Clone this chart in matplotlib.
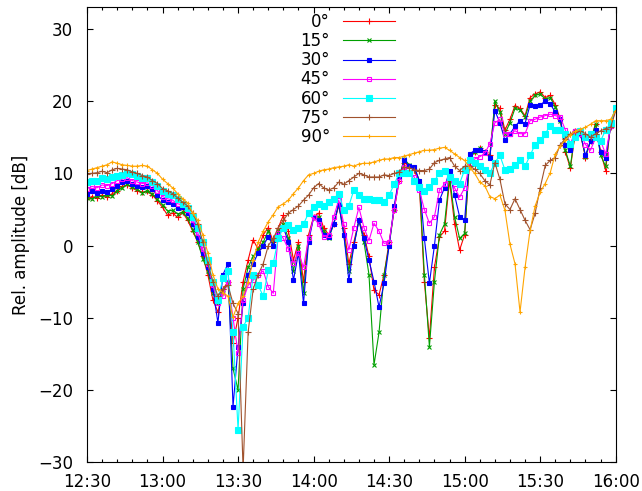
import numpy as np
import matplotlib
matplotlib.use('Agg')
import matplotlib.pyplot as plt
import matplotlib.dates as mdates

# sample times: every 2 minutes from 12:30 to 16:00
start = np.datetime64('2000-01-01T12:30')
minutes = np.arange(0, 211, 2)
times = (start + minutes.astype('timedelta64[m]')).astype('datetime64[ms]').tolist()

deg0 = [6.5, 6.8, 6.6, 7.0, 6.7, 7.2, 7.5, 8.2, 8.4, 8.0, 7.6, 7.4, 7.5, 7.0, 6.2, 5.3, 4.2, 4.5, 3.9, 4.6,
        3.5, 2.0, 0.5, -1.5, -4.0, -7.5, -9.2, -6.0, -5.0, -13.5, -10.0, -5.0, -2.0, 0.8, -0.5, 1.5, 2.5,
        0.5, 2.5, 4.2, 2.0, -2.0, 0.5, -5.0, 1.5, 4.0, 4.5,
        2.5, 1.5, 3.0, 5.5, 2.5, -2.5, 0.5, 3.5, 1.5, -1.5,
        -6.2, -6.8, -4.0, 0.5, 5.0, 9.0, 11.5, 11.0, 10.5, 8.5,
        -5.0, -12.8, -3.0, 1.2, 2.0, 9.0, 3.0, -0.6, 1.5, 12.2,
        13.0, 13.5, 13.0, 12.5, 19.5, 19.0, 16.0, 17.5, 19.4, 19.0,
        18.0, 20.5, 21.0, 21.3, 20.5, 20.8, 19.5, 17.5, 13.0, 10.7,
        15.9, 15.5, 12.2, 14.5, 16.9, 13.0, 10.4, 17.0, 19.0]
deg15 = [6.6, 6.5, 6.9, 6.8, 7.0, 6.9, 7.6, 8.0, 8.5, 8.1, 7.8, 7.3, 7.6, 7.1, 6.4, 5.6, 4.8, 4.9, 4.4, 4.6,
         3.8, 2.2, 0.5, -1.8, -3.5, -6.5, -8.0, -6.5, -5.0, -17.0, -20.0, -6.0, -3.0, -1.5, -0.5, 0.5, 2.0,
         0.0, 2.0, 3.0, 1.0, -3.5, 0.0, -6.5, 1.0, 3.9, 4.0,
         2.0, 1.0, 3.0, 5.8, 1.5, -3.5, 0.0, 3.5, 0.5, -4.0,
         -16.5, -12.0, -4.0, 0.0, 5.0, 9.5, 12.0, 11.2, 10.8, 9.0,
         -4.0, -14.0, -5.0, 1.5, 3.0, 9.5, 4.0, 1.0, 1.7, 12.2,
         13.0, 13.5, 13.0, 12.2, 20.0, 18.5, 15.5, 17.0, 19.0, 18.8,
         17.8, 20.0, 20.8, 21.0, 20.3, 20.5, 19.2, 17.3, 13.2, 11.0,
         15.9, 15.5, 12.3, 14.5, 16.8, 12.5, 11.0, 17.0, 19.2]
deg30 = [7.2, 7.5, 7.3, 7.6, 7.4, 7.8, 8.2, 8.8, 9.0, 8.6, 8.3, 8.1, 8.2, 7.8, 7.0, 6.3, 6.0, 5.8, 5.2, 5.3,
         4.5, 3.0, 1.2, -1.0, -3.0, -6.0, -10.7, -4.0, -2.5, -22.3, -14.0, -8.0, -4.0, -2.5, -1.0, 0.0, 1.2,
         0.0, 1.5, 2.5, 0.5, -4.8, -1.0, -8.0, 0.5, 3.9, 3.5,
         1.5, 1.2, 3.0, 5.8, 1.5, -4.8, 0.0, 3.5, 1.0, -2.0,
         -5.0, -8.5, -5.2, 0.0, 5.5, 9.5, 11.8, 11.0, 10.9, 9.0,
         1.0, -5.2, 0.0, 6.3, 8.0, 10.4, 7.0, 4.0, 3.5, 12.7,
         13.2, 13.2, 13.0, 12.2, 18.7, 17.0, 14.6, 15.5, 16.5, 17.3,
         16.9, 19.5, 19.4, 19.5, 20.0, 19.6, 18.5, 17.5, 14.0, 13.2,
         15.9, 15.5, 12.5, 14.5, 16.0, 13.0, 12.1, 16.5, 19.0]
deg45 = [7.9, 8.2, 8.0, 8.4, 8.3, 8.6, 9.0, 9.2, 9.4, 9.0, 8.8, 8.6, 8.7, 8.3, 7.6, 6.8, 6.5, 6.3, 5.8, 5.6,
         4.9, 3.5, 1.8, -0.5, -2.5, -5.5, -8.0, -7.0, -5.0, -10.0, -14.9, -7.5, -5.5, -4.8, -4.0, -3.5, -5.7,
         -6.6, 1.7, 1.0, -0.5, -2.4, -1.0, -3.0, 1.0, 3.9, 3.0,
         1.2, 1.5, 4.0, 6.3, 3.0, -0.6, 2.5, 5.3, 2.5, 0.7,
         3.1, 2.0, 0.3, 0.5, 5.0, 9.0, 10.9, 10.0, 9.5, 7.7,
         5.0, 3.1, 4.0, 7.7, 8.5, 9.5, 8.0, 6.7, 8.0, 11.4,
         12.0, 12.3, 12.8, 14.1, 17.0, 17.5, 15.5, 15.5, 15.9, 15.5,
         15.5, 17.3, 17.5, 17.8, 18.0, 18.2, 18.0, 17.8, 16.0, 14.1,
         15.9, 15.5, 14.0, 13.2, 15.0, 14.5, 12.7, 16.5, 19.0]
deg60 = [8.8, 9.0, 9.0, 9.3, 9.2, 9.5, 9.6, 9.8, 10.1, 9.9, 9.6, 9.4, 9.3, 8.8, 8.3, 7.6, 7.2, 7.0, 6.5, 5.8,
         5.2, 4.0, 2.5, 0.5, -2.0, -5.0, -7.5, -4.5, -3.5, -12.0, -25.5, -11.2, -10.0, -4.0, -5.5, -7.0, -3.4,
         -2.4, 1.0, 2.5, 2.8, 2.1, 2.5, 3.0, 4.5, 5.3, 5.8,
         5.5, 6.0, 6.5, 7.2, 4.9, 5.5, 7.7, 7.0, 6.5, 6.5,
         6.3, 6.3, 6.0, 7.0, 8.5, 10.0, 10.0, 10.0, 9.0, 8.1,
         7.5, 8.1, 9.0, 10.0, 10.4, 9.5, 9.0, 8.6, 10.5, 11.8,
         11.5, 11.0, 10.5, 10.0, 11.5, 12.5, 10.5, 10.6, 11.2, 11.8,
         11.0, 12.5, 14.0, 14.6, 15.5, 16.6, 16.0, 16.0, 15.5, 14.1,
         15.0, 15.9, 15.0, 15.5, 15.0, 14.5, 16.0, 17.0, 19.1]
deg75 = [9.9, 10.0, 10.1, 10.3, 10.1, 10.5, 10.7, 10.6, 10.5, 10.2, 10.0, 9.7, 9.5, 9.0, 8.6, 7.9, 7.6, 7.2, 6.6, 6.0,
         5.5, 4.5, 3.0, 0.5, -2.5, -5.0, -7.0, -6.0, -5.5, -8.0, -9.4, -31.0, -12.0, -6.0, -4.0, -2.5, 0.0,
         1.0, 2.5, 3.5, 4.5, 5.0, 5.5, 6.3, 7.0, 8.0, 8.6,
         8.0, 7.7, 8.0, 8.8, 8.5, 9.0, 9.5, 10.0, 9.8, 9.5,
         9.5, 9.5, 9.8, 9.7, 10.0, 10.2, 10.9, 10.8, 10.5, 10.4,
         10.4, 10.6, 11.5, 11.8, 12.0, 12.2, 11.0, 10.4, 11.0, 11.0,
         10.6, 10.0, 9.0, 8.4, 11.5, 9.2, 5.8, 5.0, 6.5, 5.0,
         3.5, 2.2, 4.5, 8.0, 11.1, 11.8, 12.2, 14.0, 14.8, 15.5,
         15.7, 15.9, 15.5, 15.0, 15.5, 15.9, 16.2, 16.4, 18.7]
deg90 = [10.4, 10.6, 10.8, 11.0, 11.2, 11.6, 11.4, 11.2, 11.1, 11.0, 11.0, 11.1, 11.0, 10.5, 10.0, 9.2, 8.6, 8.0, 7.2, 6.5,
         5.9, 4.5, 3.5, 1.5, -1.0, -4.0, -6.0, -6.5, -7.0, -9.9, -8.0, -7.0, -5.0, -2.0, 0.5, 2.0, 3.3,
         4.3, 5.4, 5.8, 6.3, 7.2, 8.0, 9.0, 9.8, 10.0, 10.3,
         10.5, 10.6, 10.8, 10.9, 11.0, 11.2, 11.0, 11.3, 11.4, 11.4,
         11.6, 11.8, 12.0, 12.0, 12.2, 12.2, 12.4, 12.6, 12.8, 13.0,
         13.2, 13.2, 13.3, 13.5, 13.6, 13.2, 12.7, 12.2, 11.8, 10.8,
         10.0, 8.8, 8.3, 6.8, 6.5, 7.0, 4.9, 0.2, -2.5, -9.2,
         -3.0, 2.1, 5.5, 7.4, 8.6, 10.1, 12.7, 13.8, 14.6, 15.3,
         15.9, 16.1, 16.4, 16.8, 17.3, 17.3, 17.3, 17.5, 18.7]

labels = ['0°', '15°', '30°', '45°', '60°', '75°', '90°']
series = [deg0, deg15, deg30, deg45, deg60, deg75, deg90]
colors = ['#ff0000', '#00a000', '#0000ff', '#ff00ff', '#00ffff', '#a0522d', '#ffa500']
markers = ['+', 'x', 's', 's', 's', '+', '+']
msizes = [4.5, 3.5, 2.5, 3.5, 4, 4, 3.5]
mfill = ['full', 'full', 'full', 'none', 'full', 'full', 'full']

fig = plt.figure(figsize=(6.42, 4.91), dpi=100)
ax = fig.add_axes([87/642, 1 - 462.3/491, (615.7 - 87)/642, (462.3 - 7.3)/491])

for vals, lab, c, m, ms, fs in zip(series, labels, colors, markers, msizes, mfill):
    ax.plot(times, vals, color=c, lw=0.8, marker=m, ms=ms, mew=0.8, fillstyle=fs, label=lab)

ax.set_xlim(times[0], times[-1])
ax.set_ylim(-30, 33)
ax.set_yticks([-30, -20, -10, 0, 10, 20, 30])
ax.xaxis.set_major_locator(mdates.MinuteLocator(byminute=[0, 30]))
ax.xaxis.set_minor_locator(mdates.MinuteLocator(byminute=range(0, 60, 6)))
ax.xaxis.set_major_formatter(mdates.DateFormatter('%H:%M'))
ax.tick_params(which='both', direction='in', top=True, right=True, labelsize=12)
ax.tick_params(which='major', length=4.5, width=0.8, pad=8)
ax.tick_params(which='minor', length=2.2, width=0.8)
ax.tick_params(axis='y', pad=10)
for sp in ax.spines.values():
    sp.set_linewidth(0.8)
ax.set_ylabel('Rel. amplitude [dB]', fontsize=12, labelpad=6)

ax.legend(loc='upper right', bbox_to_anchor=(395/642, 1 - 13/491), bbox_transform=fig.transFigure,
          frameon=False, markerfirst=False, fontsize=12, handlelength=3.1, handletextpad=0.8,
          labelspacing=0.07, borderpad=0, borderaxespad=0)

fig.savefig('out.png', dpi=100)
